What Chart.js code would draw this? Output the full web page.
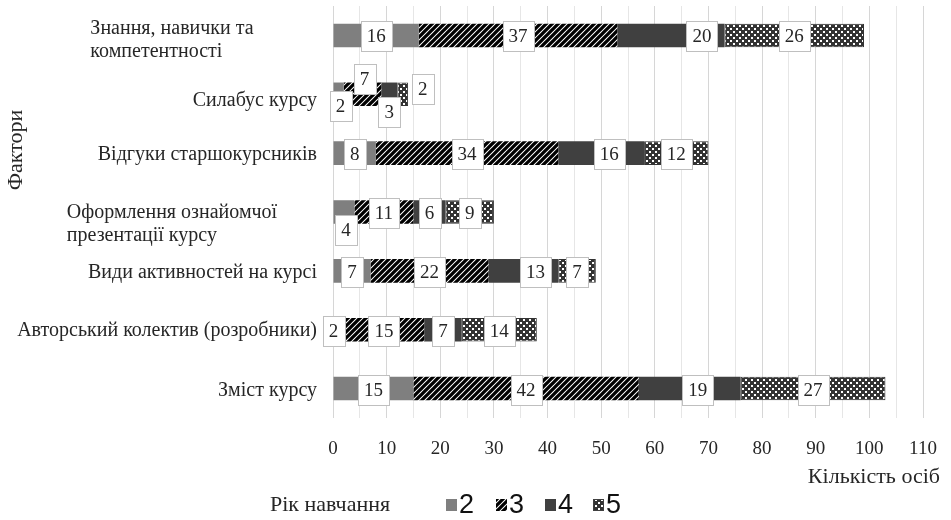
<!DOCTYPE html>
<html>
<head>
<meta charset="utf-8">
<script src="https://cdn.jsdelivr.net/npm/chart.js@4.4.0/dist/chart.umd.min.js"></script>
<style>
    html, body { margin: 0; padding: 0; background: #fff; }
</style>
</head>
<body>
<canvas id="factorsChart" width="951" height="520"></canvas>
<script>
// Фактори (зверху вниз)
var categories = [
    ['Знання, навички та', 'компетентності'],
    'Силабус курсу',
    'Відгуки старшокурсників',
    ['Оформлення ознайомчої', 'презентації курсу'],
    'Види активностей на курсі',
    'Авторський колектив (розробники)',
    'Зміст курсу'
];
// Рік навчання
var years = ['2', '3', '4', '5'];
var year2 = [16, 2, 8, 4, 7, 2, 15];
var year3 = [37, 7, 34, 11, 22, 15, 42];
var year4 = [20, 3, 16, 6, 13, 7, 19];
var year5 = [26, 2, 12, 9, 7, 14, 27];
var xTickLabels = [0, 10, 20, 30, 40, 50, 60, 70, 80, 90, 100, 110];

var SERIF = '"Liberation Serif", "DejaVu Serif", "Noto Serif", serif';
var TEXT = '#262626';

// зсуви підписів даних (як у вихідному рисунку)
var labelShift = {
    '2-0': [31, 0],
    '0-1': [2, 11], '1-1': [2, -16], '2-1': [0, 17], '3-1': [20, -6],
    '2-2': [8, 0],
    '0-3': [2, 17],
    '2-4': [12, 0],
    '0-5': [-5, 0],
    '2-6': [8, 0]
};
var catShiftY = [5, 6, 2, 12, 2, 1, 2];

function makeStripes() {
    var s = 6;
    var c = document.createElement('canvas');
    c.width = s; c.height = s;
    var g = c.getContext('2d');
    g.fillStyle = '#fff';
    g.fillRect(0, 0, s, s);
    g.strokeStyle = '#000';
    g.lineWidth = 3.3;
    g.beginPath();
    for (var k = 0; k <= 2; k++) {
        var cc = k * s;
        g.moveTo(cc + s, -s);
        g.lineTo(cc - 2 * s, 2 * s);
    }
    g.stroke();
    return g.createPattern(c, 'repeat');
}

function makeChecker() {
    var c = document.createElement('canvas');
    c.width = 6; c.height = 6;
    var g = c.getContext('2d');
    g.fillStyle = '#333';
    g.fillRect(0, 0, 6, 6);
    g.fillStyle = '#fff';
    g.fillRect(1, 1, 2, 2);
    g.fillRect(4, 4, 2, 2);
    return g.createPattern(c, 'repeat');
}

var fills = ['#7f7f7f', makeStripes(), '#404040', makeChecker()];

// Підписи значень у білих рамках
var boxLabels = {
    id: 'boxLabels',
    afterDatasetsDraw: function (chart) {
        var ctx = chart.ctx;
        ctx.save();
        ctx.font = '19px ' + SERIF;
        ctx.textAlign = 'center';
        ctx.textBaseline = 'middle';
        chart.data.datasets.forEach(function (ds, di) {
            var meta = chart.getDatasetMeta(di);
            meta.data.forEach(function (bar, i) {
                var sh = labelShift[di + '-' + i] || [0, 0];
                var cx = (bar.x + bar.base) / 2 + sh[0];
                var cy = bar.y + 1 + sh[1];
                var txt = String(ds.data[i]);
                var w = Math.round(ctx.measureText(txt).width + 12);
                var h = 30;
                var bx = Math.round(cx - w / 2) + 0.5;
                var by = Math.round(cy - h / 2) + 0.5;
                ctx.fillStyle = '#fff';
                ctx.fillRect(bx, by, w, h);
                ctx.strokeStyle = '#bfbfbf';
                ctx.lineWidth = 1;
                ctx.strokeRect(bx, by, w, h);
                ctx.fillStyle = TEXT;
                ctx.fillText(txt, cx, cy + 1);
            });
        });
        ctx.restore();
    }
};

// Підписи категорій, назви осей і легенда
var extraText = {
    id: 'extraText',
    afterDraw: function (chart) {
        var ctx = chart.ctx;
        var yScale = chart.scales.y;
        ctx.save();
        ctx.fillStyle = TEXT;
        ctx.font = '20px ' + SERIF;
        ctx.textBaseline = 'middle';
        categories.forEach(function (cat, i) {
            var y = yScale.getPixelForTick(i) + catShiftY[i];
            if (Array.isArray(cat)) {
                var maxW = 0;
                cat.forEach(function (line) { maxW = Math.max(maxW, ctx.measureText(line).width); });
                var left = 172 - maxW / 2;
                ctx.textAlign = 'left';
                cat.forEach(function (line, j) {
                    ctx.fillText(line, left, y + (j - (cat.length - 1) / 2) * 23);
                });
            } else {
                ctx.textAlign = 'right';
                ctx.fillText(cat, 317, y);
            }
        });

        // назва осі Y
        ctx.save();
        ctx.translate(16, 150);
        ctx.rotate(-Math.PI / 2);
        ctx.textAlign = 'center';
        ctx.font = '22px ' + SERIF;
        ctx.fillText('Фактори', 0, 0);
        ctx.restore();

        // назва осі X
        ctx.textAlign = 'right';
        ctx.font = '22px ' + SERIF;
        ctx.fillText('Кількість осіб', 940, 477);

        // легенда
        ctx.textAlign = 'left';
        ctx.font = '22px ' + SERIF;
        ctx.fillText('Рік навчання', 270, 505);
        var bx = [446, 496, 545, 593];
        chart.data.datasets.forEach(function (ds, di) {
            ctx.fillStyle = ds.backgroundColor;
            ctx.fillRect(bx[di], 499, 11, 12);
            if (di === 3) {
                ctx.strokeStyle = '#404040';
                ctx.strokeRect(bx[di] + 0.5, 499.5, 10, 11);
            }
            ctx.fillStyle = '#111';
            ctx.font = '27px "Liberation Sans Narrow", "Liberation Sans", sans-serif';
            ctx.fillText(ds.label, bx[di] + 13, 506);
        });
        ctx.restore();
    }
};

var series = [year2, year3, year4, year5];
var datasets = series.map(function (vals, i) {
    return {
        label: years[i],
        data: vals,
        backgroundColor: fills[i],
        borderColor: '#333',
        borderWidth: i === 3 ? 1 : 0,
        borderSkipped: false,
        barPercentage: 0.4,
        categoryPercentage: 1
    };
});

var ctx = document.getElementById('factorsChart').getContext('2d');
var factorsChart = new Chart(ctx, {
    type: 'bar',
    data: {
        labels: categories,
        datasets: datasets
    },
    options: {
        indexAxis: 'y',
        responsive: false,
        animation: false,
        layout: { padding: { top: 6, right: 28, bottom: 0, left: 0 } },
        plugins: {
            legend: { display: false },
            tooltip: { enabled: false }
        },
        scales: {
            x: {
                stacked: true,
                min: 0,
                max: 110,
                border: { display: false },
                grid: {
                    drawTicks: false,
                    color: function (c) {
                        return c.tick && c.tick.value % 10 === 0 ? '#d6d6d6' : '#e6e6e6';
                    }
                },
                ticks: {
                    stepSize: 5,
                    autoSkip: false,
                    maxRotation: 0,
                    padding: 20,
                    color: TEXT,
                    font: { family: SERIF, size: 19 },
                    callback: function (v) {
                        return xTickLabels.indexOf(v) >= 0 ? String(v) : '';
                    }
                },
                afterFit: function (scale) {
                    scale.height = 102;
                    scale.paddingLeft = 0;
                    scale.paddingRight = 0;
                }
            },
            y: {
                stacked: true,
                border: { display: false },
                grid: { display: false },
                ticks: { display: false },
                afterFit: function (scale) { scale.width = 333; }
            }
        }
    },
    plugins: [boxLabels, extraText]
});
</script>
</body>
</html>
